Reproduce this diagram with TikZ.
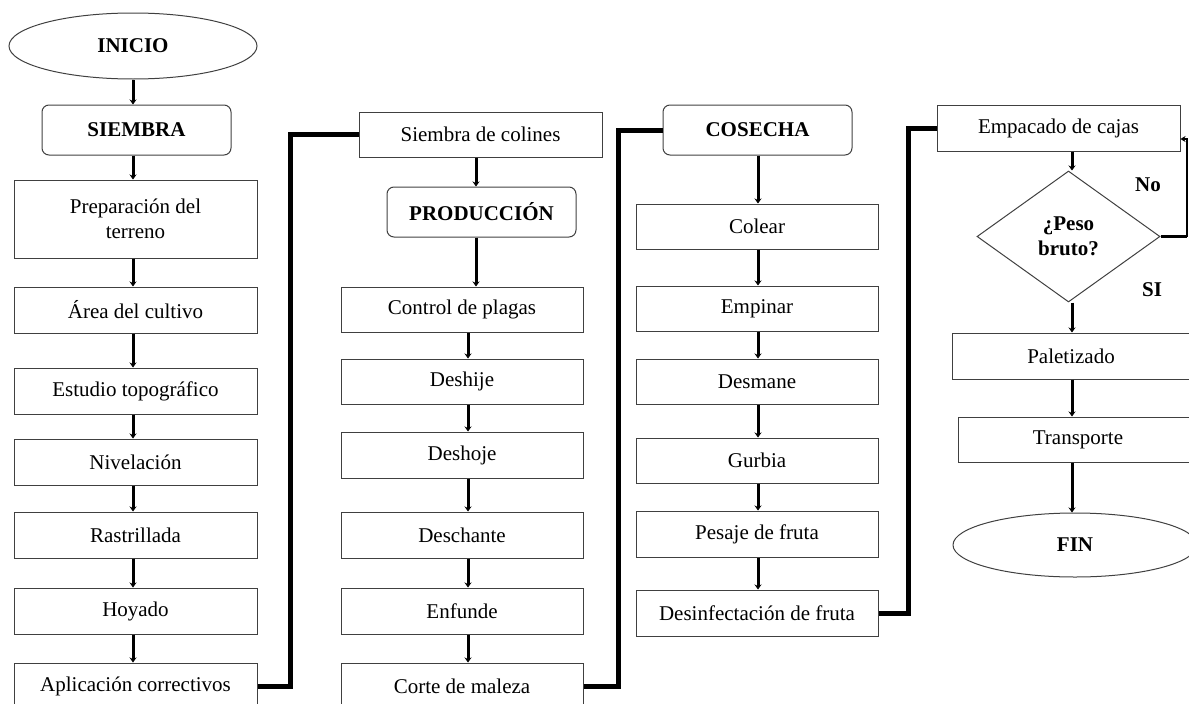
\documentclass[tikz,border=0pt]{standalone}
\usepackage{fontspec}
\setmainfont{Liberation Serif}
\usetikzlibrary{shapes.geometric,arrows.meta}
\newcommand\myfs{\fontsize{21}{25}\selectfont}
\tikzset{
  box/.style={draw=black!75, line width=1pt, rectangle, minimum height=46pt, minimum width=243pt, inner sep=0pt, align=center, font=\myfs},
  rbox/.style={box, rounded corners=7pt, minimum width=189pt, minimum height=50pt, font=\myfs\bfseries},
  oval/.style={draw=black!75, line width=1pt, ellipse, inner sep=0pt, font=\myfs\bfseries},
  decision/.style={draw=black!75, line width=1pt, diamond, inner sep=0pt, align=center, font=\myfs\bfseries},
  lbl/.style={font=\myfs\bfseries, inner sep=0pt},
  arr/.style={line width=3pt, -{Stealth[length=5pt,width=7pt]}},
  conn/.style={line width=5pt, line join=miter},
}
\begin{document}
\begin{tikzpicture}[x=1pt,y=-1pt]
\useasboundingbox (0,0) rectangle (1189,704);
\clip (0,0) rectangle (1189,704);
% column coordinates
\coordinate (c1) at (133,0);
\coordinate (c2a) at (476,0);
\coordinate (c2) at (468,0);
\coordinate (c3) at (758,0);
\coordinate (c4) at (1072,0);
% column 1
\node[oval, minimum width=248pt, minimum height=66pt] (inicio) at (133,46) {INICIO};
\node[rbox] (siembra) at (136.5,130) {SIEMBRA};
\node[box, minimum height=78pt] (prep) at (135.5,219) {Preparación del\\terreno};
\node[box] (area) at (135.5,310) {Área del cultivo};
\node[box] (estudio) at (135.5,391) {Estudio topográfico};
\node[box] (nivel) at (135.5,462) {Nivelación};
\node[box] (rastr) at (135.5,535) {Rastrillada};
\node[box] (hoyado) at (135.5,611) {Hoyado};
\node[box] (aplic) at (135.5,686) {Aplicación correctivos};
% column 2
\node[box, minimum height=45pt] (sc) at (480.5,134.5) {Siembra de colines};
\node[rbox] (prod) at (481.5,212) {PRODUCCIÓN};
\node[box, minimum width=242pt, minimum height=45pt] (control) at (462,309.5) {Control de plagas};
\node[box, minimum width=242pt, minimum height=45pt] (deshije) at (462,381.5) {Deshije};
\node[box, minimum width=242pt] (deshoje) at (462,455) {Deshoje};
\node[box, minimum width=242pt] (deschante) at (462,535) {Deschante};
\node[box, minimum width=242pt] (enfunde) at (462,611) {Enfunde};
\node[box, minimum width=242pt] (corte) at (462,686) {Corte de maleza};
% column 3
\node[rbox] (cos) at (757.5,130) {COSECHA};
\node[box, minimum width=242pt, minimum height=45pt] (colear) at (757,226.5) {Colear};
\node[box, minimum width=242pt, minimum height=45pt] (empinar) at (757,308.5) {Empinar};
\node[box, minimum width=242pt, minimum height=45pt] (desmane) at (757,381.5) {Desmane};
\node[box, minimum width=242pt, minimum height=45pt] (gurbia) at (757,460.5) {Gurbia};
\node[box, minimum width=242pt] (pesaje) at (757,534) {Pesaje de fruta};
\node[box, minimum width=242pt] (desinf) at (757,613) {Desinfectación de fruta};
% column 4
\node[box] (emp) at (1058.5,128) {Empacado de cajas};
\node[decision, minimum width=183pt, minimum height=131pt] (peso) at (1068.5,236.5) {¿Peso\\bruto?};
\node[box, minimum width=238pt] (palet) at (1071,356) {Paletizado};
\node[box, minimum width=240pt, minimum height=45pt] (transp) at (1078,439.5) {Transporte};
\node[oval, minimum width=244pt, minimum height=64pt] (fin) at (1075,545) {FIN};
\node[lbl] (no) at (1148,185) {No};
\node[lbl] (si) at (1152,290) {SI};
% arrows column 1
\draw[arr] (inicio.south -| c1) -- (siembra.north -| c1);
\draw[arr] (siembra.south -| c1) -- (prep.north -| c1);
\draw[arr] (prep.south -| c1) -- (area.north -| c1);
\draw[arr] (area.south -| c1) -- (estudio.north -| c1);
\draw[arr] (estudio.south -| c1) -- (nivel.north -| c1);
\draw[arr] (nivel.south -| c1) -- (rastr.north -| c1);
\draw[arr] (rastr.south -| c1) -- (hoyado.north -| c1);
\draw[arr] (hoyado.south -| c1) -- (aplic.north -| c1);
% arrows column 2
\draw[arr] (sc.south -| c2a) -- (prod.north -| c2a);
\draw[arr] (prod.south -| c2a) -- (control.north -| c2a);
\draw[arr] (control.south -| c2) -- (deshije.north -| c2);
\draw[arr] (deshije.south -| c2) -- (deshoje.north -| c2);
\draw[arr] (deshoje.south -| c2) -- (deschante.north -| c2);
\draw[arr] (deschante.south -| c2) -- (enfunde.north -| c2);
\draw[arr] (enfunde.south -| c2) -- (corte.north -| c2);
% arrows column 3
\draw[arr] (cos.south -| c3) -- (colear.north -| c3);
\draw[arr] (colear.south -| c3) -- (empinar.north -| c3);
\draw[arr] (empinar.south -| c3) -- (desmane.north -| c3);
\draw[arr] (desmane.south -| c3) -- (gurbia.north -| c3);
\draw[arr] (gurbia.south -| c3) -- (pesaje.north -| c3);
\draw[arr] (pesaje.south -| c3) -- (desinf.north -| c3);
% arrows column 4
\draw[arr] (emp.south -| c4) -- (peso.north -| c4);
\draw[arr] (peso.south -| c4) -- (palet.north -| c4);
\draw[arr] (palet.south -| c4) -- (transp.north -| c4);
\draw[arr] (transp.south -| c4) -- (fin.north -| c4);
% long connectors between columns
\coordinate (k1) at (290,134.5);
\coordinate (k2) at (618,130);
\coordinate (k3) at (908,128);
\draw[conn] (aplic.east) -| (k1) -- (sc.west);
\draw[conn] (corte.east) -| (k2) -- (cos.west);
\draw[conn] (desinf.east) -| (k3) -- (emp.west);
% No loop
\coordinate (k4) at (1187,236.5);
\coordinate (k5) at (1187,139);
\draw[line width=3pt] (peso.east) -- (k4);
\draw[line width=1.5pt, -{Stealth[length=5pt,width=6pt]}] (k4) -- (k5) -- (emp.east |- k5);
\end{tikzpicture}
\end{document}
